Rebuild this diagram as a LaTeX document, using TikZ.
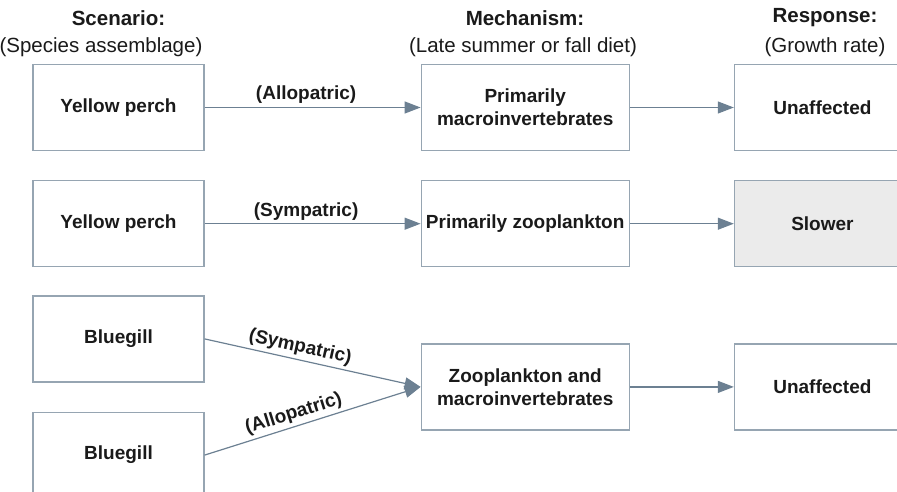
\documentclass[tikz,border=0pt]{standalone}
\usepackage{fontspec}
\setmainfont{Liberation Sans}
\usepackage{xcolor}
\definecolor{boxline}{RGB}{150, 165, 178}
\definecolor{flowline}{RGB}{108, 128, 146}
\definecolor{slowfill}{RGB}{235, 235, 235}
\definecolor{textdark}{RGB}{26, 26, 26}
\usetikzlibrary{arrows.meta,positioning}

\begin{document}
\begin{tikzpicture}[x=1pt, y=-1pt,
    every node/.style={font=\fontsize{19}{23}\selectfont\bfseries, text=textdark},
    fishbox/.style={rectangle, draw=boxline, line width=1.2pt, minimum width=171pt, minimum height=86pt, align=center},
    dietbox/.style={fishbox, minimum width=208pt},
    growthbox/.style={fishbox, minimum width=176pt},
    flow/.style={-{Triangle[length=16pt, width=12pt]}, line width=1.2pt, color=flowline},
    flowlabel/.style={above, inner sep=3pt},
    headtitle/.style={font=\fontsize{20.5}{24}\selectfont\bfseries},
    headsub/.style={font=\fontsize{20.5}{24}\selectfont}]
    \useasboundingbox (0,0) rectangle (897,492);
    \clip (0,0) rectangle (897,492);

    % Column headers
    \node[headtitle] (scenario) at (118.5,18) {Scenario:};
    \node[headsub] (scenariosub) at (101,47) {(Species assemblage)};
    \node[headtitle] (mechanism) at (525,18) {Mechanism:};
    \node[headsub] (mechanismsub) at (523,47) {(Late summer or fall diet)};
    \node[headtitle] (response) at (825,18) {Response:};
    \node[headsub] (responsesub) at (825,47) {(Growth rate)};

    % Species assemblage
    \node[fishbox] (perchA) at (118.5,107.5) {Yellow perch};
    \node[fishbox, below=29pt of perchA] (perchB) {Yellow perch};
    \node[fishbox, below=28pt of perchB] (gillA) {Bluegill};
    \node[fishbox, below=29pt of gillA] (gillB) {Bluegill};

    % Diet
    \node[dietbox, right=216pt of perchA] (dietA) {Primarily\\macroinvertebrates};
    \node[dietbox, right=216pt of perchB] (dietB) {Primarily zooplankton};
    \node[dietbox, below=76pt of dietB] (dietC) {Zooplankton and\\macroinvertebrates};

    % Growth rate
    \node[growthbox, right=104pt of dietA] (growthA) {Unaffected};
    \node[growthbox, fill=slowfill, right=104pt of dietB] (growthB) {Slower};
    \node[growthbox, right=104pt of dietC] (growthC) {Unaffected};

    % Flows
    \draw[flow] (perchA) -- node[flowlabel, pos=0.47] {(Allopatric)} (dietA);
    \draw[flow] (perchB) -- node[flowlabel, pos=0.47] {(Sympatric)} (dietB);
    \draw[flow] (gillA.east) -- node[flowlabel, sloped, pos=0.43] {(Sympatric)} (dietC.west);
    \draw[flow] (gillB.east) -- node[flowlabel, sloped, pos=0.43] {(Allopatric)} (dietC.west);
    \draw[flow] (dietA) -- (growthA);
    \draw[flow] (dietB) -- (growthB);
    \draw[flow] (dietC) -- (growthC);
\end{tikzpicture}
\end{document}
